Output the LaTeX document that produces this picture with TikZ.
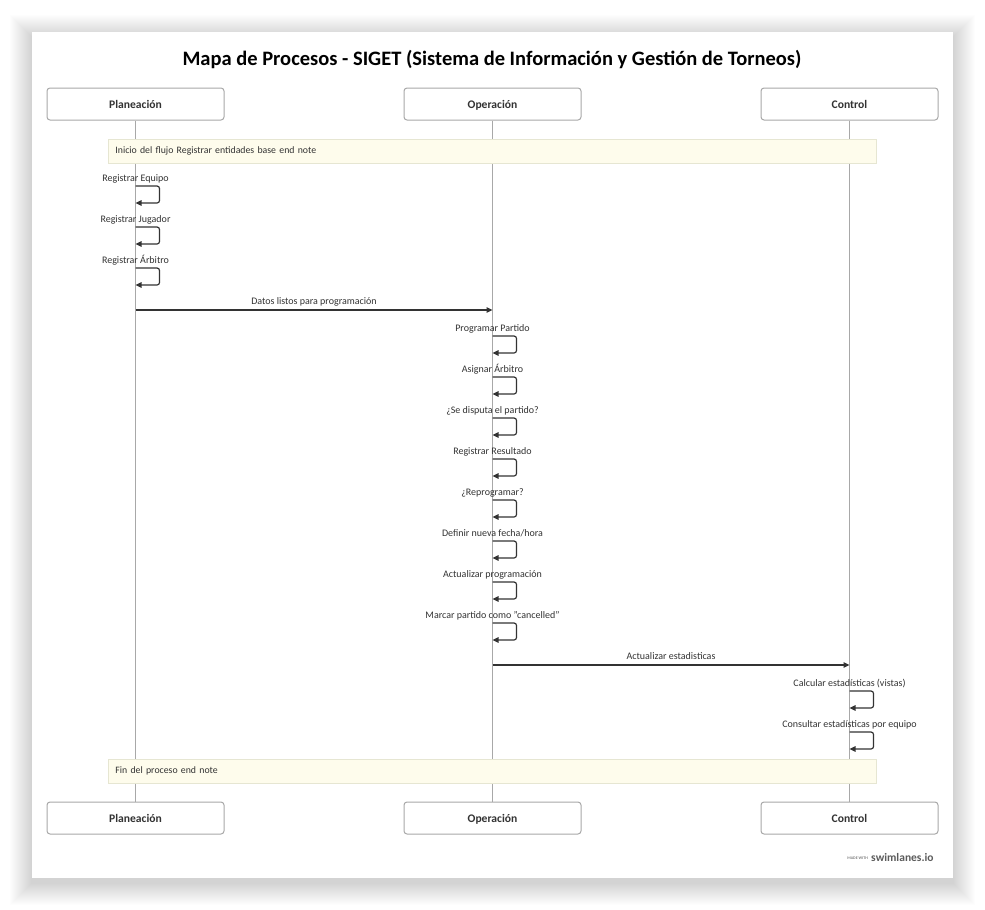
\documentclass[tikz,border=0pt]{standalone}
\usepackage{fontspec}
\setmainfont{Carlito}
\usetikzlibrary{positioning}
\usetikzlibrary{arrows.meta}

\definecolor{ink}{HTML}{333333}
\definecolor{lanegray}{HTML}{A8A8A8}
\definecolor{notefill}{HTML}{FEFCEC}
\definecolor{noteedge}{HTML}{E6E6D2}

\begin{document}
\begin{tikzpicture}[x=1pt,y=-1pt,
    lane/.style={draw=lanegray,line width=1pt,rounded corners=3pt,fill=white,minimum width=177pt,minimum height=32pt,text height=9.5pt,text depth=0pt,font=\bfseries\fontsize{11.6}{13}\selectfont,text=ink},
    life/.style={draw=lanegray,line width=0.9pt},
    note/.style={draw=noteedge,fill=notefill,line width=0.8pt,minimum height=24pt,text width=754pt,inner xsep=7pt,align=left,font=\fontsize{9.8}{11}\selectfont,text=ink},
    msg/.style={font=\fontsize{10}{12}\selectfont,text=ink,inner sep=0pt,text height=7pt,text depth=2.5pt},
    call/.style={draw=ink,line width=1.2pt,-{Triangle[length=6pt,width=5.5pt]}},
    selfcall/.style={call,rounded corners=2.5pt}]
        \useasboundingbox (0,0) rectangle (985,910);
        % card with soft shadow
        \foreach \s in {1,...,22}
            \fill[black,opacity=0.009] (32-\s,37-\s) rectangle (953+\s,883+\s);
        \fill[white] (32,32) rectangle (953,878);
        \node[font=\bfseries\fontsize{20.5}{24}\selectfont,text=black] (title) at (492,60) {Mapa de Procesos - SIGET (Sistema de Información y Gestión de Torneos)};

        % lanes
        \node[lane] (planTop) at (135.5,104) {Planeación};
        \node[lane] (opTop) at (492.5,104) {Operación};
        \node[lane] (ctrlTop) at (849.5,104) {Control};
        \node[lane] (planBot) at (135.5,818) {Planeación};
        \node[lane] (opBot) at (492.5,818) {Operación};
        \node[lane] (ctrlBot) at (849.5,818) {Control};
        \draw[life] (planTop) -- (planBot);
        \draw[life] (opTop) -- (opBot);
        \draw[life] (ctrlTop) -- (ctrlBot);

        % notes
        \node[note,anchor=west] (noteStart) at (108,151) {Inicio del flujo Registrar entidades base end note};
        \node[note,anchor=west] (noteEnd) at (108,771) {Fin del proceso end note};

        % Planeacion
        \foreach \y/\txt [count=\i] in {186/{Registrar Equipo},227/{Registrar Jugador},268/{Registrar Árbitro}}
            \draw[selfcall] (planTop |- 0,\y) node[msg,above=1pt] (planMsg\i) {\txt} -- ++(24,0) -- ++(0,17) -- ++(-24,0);
        \draw[call] (planTop |- 0,310) -- node[msg,above=2.5pt] (datos) {Datos listos para programación} (opTop |- 0,310);

        % Operacion
        \foreach \y/\txt [count=\i] in {336/{Programar Partido},377/{Asignar Árbitro},418/{¿Se disputa el partido?},459/{Registrar Resultado},500/{¿Reprogramar?},541/{Definir nueva fecha/hora},582/{Actualizar programación},623/{Marcar partido como "cancelled"}}
            \draw[selfcall] (opTop |- 0,\y) node[msg,above=1pt] (opMsg\i) {\txt} -- ++(24,0) -- ++(0,17) -- ++(-24,0);
        \draw[call] (opTop |- 0,665) -- node[msg,above=2.5pt] (stats) {Actualizar estadisticas} (ctrlTop |- 0,665);

        % Control
        \foreach \y/\txt [count=\i] in {691/{Calcular estadísticas (vistas)},732/{Consultar estadísticas por equipo}}
            \draw[selfcall] (ctrlTop |- 0,\y) node[msg,above=1pt] (ctrlMsg\i) {\txt} -- ++(24,0) -- ++(0,17) -- ++(-24,0);

        % footer
        \node[anchor=east,font=\bfseries\fontsize{4}{5}\selectfont,text=gray,inner sep=0pt] (madeWith) at (868,858) {MADE WITH};
        \node[anchor=west,font=\bfseries\fontsize{11.5}{13}\selectfont,text=ink!80,inner sep=0pt] (brand) at (871,857) {swimlanes.io};
      \end{tikzpicture}
\end{document}
